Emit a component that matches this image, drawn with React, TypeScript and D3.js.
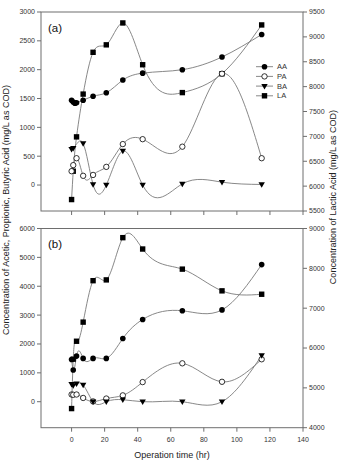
import React from "react";
import * as d3 from "d3";

// ---- data: panel (a) ----
const aaTimeA = [0, 1, 2, 3, 7, 13, 21, 31, 43, 67, 91, 115];
const aaA = [1470, 1440, 1420, 1425, 1470, 1540, 1600, 1820, 1940, 2000, 2220, 2610];
const paTimeA = [0, 1, 3, 7, 13, 21, 31, 43, 67, 91, 115];
const paA = [240, 345, 465, 160, 175, 315, 710, 795, 665, 1930, 465];
const baTimeA = [0, 1, 7, 13, 21, 31, 43, 67, 91, 115];
const baA = [620, 640, 720, 10, 0, 590, 0, 20, 50, 10];
const laTimeA = [0, 1, 3, 7, 13, 21, 31, 43, 67, 91, 115];
const laA = [5730, 6300, 6990, 7850, 8690, 8840, 9280, 8440, 7880, 8260, 9240];

// ---- data: panel (b) ----
const timeB = [0, 1, 3, 7, 13, 21, 31, 43, 67, 91, 115];
const aaB = [1460, 1100, 1580, 1500, 1500, 1500, 2190, 2850, 3150, 3180, 4750];
const paB = [250, 240, 250, 130, 10, 110, 220, 680, 1330, 690, 1470];
const baB = [610, 560, 620, 580, 0, 0, 70, 0, 0, 0, 1600];
const laB = [4480, 5720, 6170, 6650, 7690, 7710, 8770, 8485, 7980, 7435, 7350];

// ---- axes ----
const xTicks = [0, 20, 40, 60, 80, 100, 120, 140];
const leftTicksA = [0, 500, 1000, 1500, 2000, 2500, 3000];
const rightTicksA = [5500, 6000, 6500, 7000, 7500, 8000, 8500, 9000, 9500];
const leftTicksB = [0, 1000, 2000, 3000, 4000, 5000, 6000];
const rightTicksB = [4000, 5000, 6000, 7000, 8000, 9000];
const legendLabels = ["AA", "PA", "BA", "LA"];

const FONT = "'Liberation Sans', Arial, Helvetica, sans-serif";
const AXIS = "#6e6e6e";
const LINE = "#7a7a7a";
const TXT = "#333";

// Natural cubic spline through the points, y as a function of x,
// emitted as exact cubic Bezier segments.
function curveSplineX(context: any) {
  let xs: number[] = [];
  let ys: number[] = [];
  return {
    areaStart() {},
    areaEnd() {},
    lineStart() {
      xs = [];
      ys = [];
    },
    point(x: number, y: number) {
      xs.push(+x);
      ys.push(+y);
    },
    lineEnd() {
      const n = xs.length;
      if (!n) return;
      context.moveTo(xs[0], ys[0]);
      if (n === 1) return;
      if (n === 2) {
        context.lineTo(xs[1], ys[1]);
        return;
      }
      const h: number[] = [];
      for (let i = 0; i < n - 1; i++) h.push(xs[i + 1] - xs[i]);
      const a: number[] = [], b: number[] = [], c: number[] = [], d: number[] = [];
      for (let i = 1; i < n - 1; i++) {
        a.push(h[i - 1]);
        b.push(2 * (h[i - 1] + h[i]));
        c.push(h[i]);
        d.push(6 * ((ys[i + 1] - ys[i]) / h[i] - (ys[i] - ys[i - 1]) / h[i - 1]));
      }
      const m = a.length;
      for (let i = 1; i < m; i++) {
        const w = a[i] / b[i - 1];
        b[i] -= w * c[i - 1];
        d[i] -= w * d[i - 1];
      }
      const sol = new Array(m).fill(0);
      sol[m - 1] = d[m - 1] / b[m - 1];
      for (let i = m - 2; i >= 0; i--) sol[i] = (d[i] - c[i] * sol[i + 1]) / b[i];
      const M = new Array(n).fill(0);
      for (let i = 0; i < m; i++) M[i + 1] = sol[i];
      for (let i = 0; i < n - 1; i++) {
        const hi = h[i];
        const s = (ys[i + 1] - ys[i]) / hi;
        const m0 = s - (hi * (2 * M[i] + M[i + 1])) / 6;
        const m1 = s + (hi * (M[i] + 2 * M[i + 1])) / 6;
        context.bezierCurveTo(
          xs[i] + hi / 3, ys[i] + (m0 * hi) / 3,
          xs[i + 1] - hi / 3, ys[i + 1] - (m1 * hi) / 3,
          xs[i + 1], ys[i + 1]
        );
      }
    },
  };
}

type Kind = "AA" | "PA" | "BA" | "LA";

function Marker({ kind, x, y }: { kind: Kind; x: number; y: number }) {
  if (kind === "AA") return <circle cx={x} cy={y} r={2.8} fill="#000" />;
  if (kind === "PA")
    return <circle cx={x} cy={y} r={2.7} fill="#fff" stroke="#000" strokeWidth={0.8} />;
  if (kind === "BA")
    return (
      <path
        d={`M${x - 3.2},${y - 2.2}L${x + 3.2},${y - 2.2}L${x},${y + 3.3}Z`}
        fill="#000"
      />
    );
  return <rect x={x - 2.7} y={y - 2.7} width={5.4} height={5.4} fill="#000" />;
}

const x = d3.scaleLinear().domain([-18.5, 140]).range([41, 303]);

interface Series {
  kind: Kind;
  t: number[];
  v: number[];
  right: boolean;
}

function Panel({
  top,
  bottom,
  leftDomain,
  rightDomain,
  leftTicks,
  rightTicks,
  series,
  label,
  showXLabels,
  legend,
}: {
  top: number;
  bottom: number;
  leftDomain: [number, number];
  rightDomain: [number, number];
  leftTicks: number[];
  rightTicks: number[];
  series: Series[];
  label: string;
  showXLabels: boolean;
  legend: boolean;
}) {
  const yl = d3.scaleLinear().domain(leftDomain).range([bottom, top]);
  const yr = d3.scaleLinear().domain(rightDomain).range([bottom, top]);
  const [x0, x1] = x.range();
  const line = d3.line<[number, number]>().curve(curveSplineX as any);

  return (
    <g>
      {/* frame */}
      <rect x={x0} y={top} width={x1 - x0} height={bottom - top} fill="none" stroke={AXIS} strokeWidth={1} />
      {/* left axis */}
      {leftTicks.map((t) => (
        <g key={"l" + t}>
          <line x1={x0 - 4} x2={x0} y1={yl(t)} y2={yl(t)} stroke={AXIS} />
          <text x={x0 - 6} y={yl(t)} dy="0.35em" textAnchor="end" fontSize={7} fill={TXT} fontFamily={FONT}>
            {t}
          </text>
        </g>
      ))}
      {/* right axis */}
      {rightTicks.map((t) => (
        <g key={"r" + t}>
          <line x1={x1} x2={x1 + 4} y1={yr(t)} y2={yr(t)} stroke={AXIS} />
          <text x={x1 + 6} y={yr(t)} dy="0.35em" textAnchor="start" fontSize={7} fill={TXT} fontFamily={FONT}>
            {t}
          </text>
        </g>
      ))}
      {/* bottom axis */}
      {xTicks.map((t) => (
        <g key={"x" + t}>
          <line x1={x(t)} x2={x(t)} y1={bottom} y2={bottom + 4} stroke={AXIS} />
          {showXLabels && (
            <text x={x(t)} y={bottom + 14} textAnchor="middle" fontSize={7} fill={TXT} fontFamily={FONT}>
              {t}
            </text>
          )}
        </g>
      ))}
      {/* curves */}
      {series.map((s) => {
        const y = s.right ? yr : yl;
        const pts = s.t.map((t, i) => [x(t), y(s.v[i])] as [number, number]);
        return <path key={"c" + s.kind} d={line(pts) || ""} fill="none" stroke={LINE} strokeWidth={0.9} />;
      })}
      {/* markers */}
      {series.map((s) => {
        const y = s.right ? yr : yl;
        return (
          <g key={"m" + s.kind}>
            {s.t.map((t, i) => (
              <Marker key={i} kind={s.kind} x={x(t)} y={y(s.v[i])} />
            ))}
          </g>
        );
      })}
      <text x={48} y={top + 19.5} fontSize={11.5} fill="#111" fontFamily={FONT}>
        {label}
      </text>
      {legend && (
        <g>
          {legendLabels.map((name, i) => {
            const ly = 66.7 + i * 9.7;
            return (
              <g key={name}>
                <line x1={256} x2={273} y1={ly} y2={ly} stroke={LINE} strokeWidth={0.9} />
                <Marker kind={name as Kind} x={264.5} y={ly} />
                <text x={277} y={ly} dy="0.35em" fontSize={7.5} fill={TXT} fontFamily={FONT}>
                  {name}
                </text>
              </g>
            );
          })}
        </g>
      )}
    </g>
  );
}

export default function App() {
  const seriesA: Series[] = [
    { kind: "LA", t: laTimeA, v: laA, right: true },
    { kind: "AA", t: aaTimeA, v: aaA, right: false },
    { kind: "PA", t: paTimeA, v: paA, right: false },
    { kind: "BA", t: baTimeA, v: baA, right: false },
  ];
  const seriesB: Series[] = [
    { kind: "LA", t: timeB, v: laB, right: true },
    { kind: "AA", t: timeB, v: aaB, right: false },
    { kind: "PA", t: timeB, v: paB, right: false },
    { kind: "BA", t: timeB, v: baB, right: false },
  ];
  return (
    <svg
      width={339}
      height={460}
      viewBox="0 0 339 460"
      style={{ position: "absolute", left: 0, top: 0, background: "#fff" }}
    >
      <rect width={339} height={460} fill="#fff" />
      <Panel
        top={12}
        bottom={211}
        leftDomain={[-450, 3000]}
        rightDomain={[5500, 9500]}
        leftTicks={leftTicksA}
        rightTicks={rightTicksA}
        series={seriesA}
        label="(a)"
        showXLabels={false}
        legend={true}
      />
      <Panel
        top={228.5}
        bottom={427.7}
        leftDomain={[-900, 6000]}
        rightDomain={[4000, 9000]}
        leftTicks={leftTicksB}
        rightTicks={rightTicksB}
        series={seriesB}
        label="(b)"
        showXLabels={true}
        legend={false}
      />
      <text
        transform="translate(9,210) rotate(-90)"
        textAnchor="middle"
        fontSize={9}
        fill="#222"
        fontFamily={FONT}
      >
        Concentration of Acetic, Propionic, Butyric Acid (mg/L as COD)
      </text>
      <text
        transform="translate(336,197) rotate(-90)"
        textAnchor="middle"
        fontSize={9}
        fill="#222"
        fontFamily={FONT}
      >
        Concentration of Lactic Acid (mg/L as COD)
      </text>
      <text x={172} y={458} textAnchor="middle" fontSize={9} fill="#222" fontFamily={FONT}>
        Operation time (hr)
      </text>
    </svg>
  );
}
